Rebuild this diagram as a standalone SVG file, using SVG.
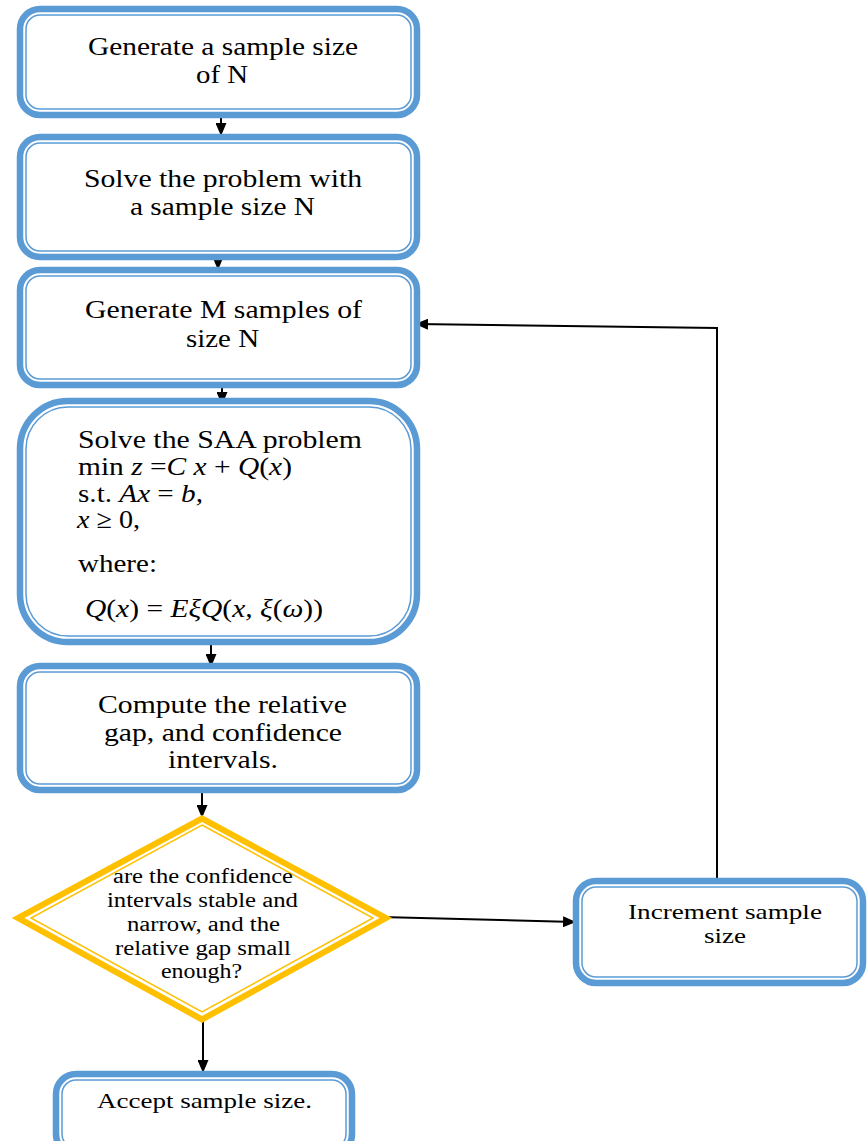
<svg xmlns="http://www.w3.org/2000/svg" width="867" height="1141" viewBox="0 0 867 1141">
<defs>
<marker id="ah" markerWidth="13" markerHeight="11" refX="12" refY="5.5" orient="auto" markerUnits="userSpaceOnUse">
<path d="M0,0 L13,5.5 L0,11 Z" fill="#000"/>
</marker>
<style>
.bo{fill:#fff;stroke:#5B9BD5;stroke-width:6.5}
.bi{fill:none;stroke:#5B9BD5;stroke-width:1.5}
.yo{fill:#fff;stroke:#FFC000;stroke-width:6;stroke-linejoin:miter;stroke-miterlimit:10}
.yi{fill:none;stroke:#FFC000;stroke-width:1.5}
text{font-family:"Liberation Serif","Times New Roman",serif;fill:#000}
.t{font-size:26px}
.d{font-size:20px}
.s{font-size:22px}
.c{fill:none;stroke:#000;stroke-width:2}
</style>
</defs>
<rect width="867" height="1141" fill="#fff"/>

<g id="connectors">
<line class="c" x1="221" y1="118" x2="221" y2="135" marker-end="url(#ah)"/>
<line class="c" x1="218" y1="257" x2="218" y2="269" marker-end="url(#ah)"/>
<line class="c" x1="222" y1="388" x2="222" y2="404" marker-end="url(#ah)"/>
<line class="c" x1="211" y1="645" x2="211" y2="666" marker-end="url(#ah)"/>
<line class="c" x1="202" y1="792" x2="202" y2="817" marker-end="url(#ah)"/>
<line class="c" x1="203" y1="1021" x2="203" y2="1072" marker-end="url(#ah)"/>
<line class="c" x1="381" y1="917" x2="575" y2="922" marker-end="url(#ah)"/>
<polyline class="c" points="717,879 717,328 416,324" marker-end="url(#ah)"/>
</g>

<g id="n1">
<rect class="bo" x="20" y="9" width="397" height="106" rx="20"/>
<rect class="bi" x="26" y="15" width="385" height="94" rx="14"/>
<text class="t" x="88" y="55" textLength="270" lengthAdjust="spacingAndGlyphs">Generate a sample size</text>
<text class="t" x="196" y="83" textLength="52" lengthAdjust="spacingAndGlyphs">of N</text>
</g>

<g id="n2">
<rect class="bo" x="20" y="137" width="397" height="120" rx="20"/>
<rect class="bi" x="26" y="143" width="385" height="108" rx="14"/>
<text class="t" x="84" y="187" textLength="278" lengthAdjust="spacingAndGlyphs">Solve the problem with</text>
<text class="t" x="130" y="215" textLength="185" lengthAdjust="spacingAndGlyphs">a sample size N</text>
</g>

<g id="n3">
<rect class="bo" x="20" y="270" width="397" height="115" rx="20"/>
<rect class="bi" x="26" y="276" width="385" height="103" rx="14"/>
<text class="t" x="85" y="318" textLength="277" lengthAdjust="spacingAndGlyphs">Generate M samples of</text>
<text class="t" x="186" y="347" textLength="73" lengthAdjust="spacingAndGlyphs">size N</text>
</g>

<g id="n4">
<rect class="bo" x="20" y="401" width="397" height="241" rx="48"/>
<rect class="bi" x="26" y="407" width="385" height="229" rx="42"/>
<text class="t" x="78" y="448" textLength="284" lengthAdjust="spacingAndGlyphs">Solve the SAA problem</text>
<text class="t" x="78" y="475" textLength="214" lengthAdjust="spacingAndGlyphs">min <tspan font-style="italic">z</tspan> =<tspan font-style="italic">C x</tspan> + <tspan font-style="italic">Q</tspan>(<tspan font-style="italic">x</tspan>)</text>
<text class="t" x="78" y="502" textLength="125" lengthAdjust="spacingAndGlyphs">s.t. <tspan font-style="italic">Ax</tspan> = <tspan font-style="italic">b,</tspan></text>
<text class="t" x="77" y="528" textLength="63" lengthAdjust="spacingAndGlyphs"><tspan font-style="italic">x</tspan> ≥ 0,</text>
<text class="t" x="78" y="572" textLength="79" lengthAdjust="spacingAndGlyphs">where:</text>
<text class="t" x="85" y="617" textLength="238" lengthAdjust="spacingAndGlyphs"><tspan font-style="italic">Q</tspan>(<tspan font-style="italic">x</tspan>) = <tspan font-style="italic">EξQ</tspan>(<tspan font-style="italic">x,</tspan> <tspan font-style="italic">ξ</tspan>(<tspan font-style="italic">ω</tspan>))</text>
</g>

<g id="n5">
<rect class="bo" x="20" y="666" width="397" height="124" rx="20"/>
<rect class="bi" x="26" y="672" width="385" height="112" rx="14"/>
<text class="t" x="98" y="713" textLength="249" lengthAdjust="spacingAndGlyphs">Compute the relative</text>
<text class="t" x="104" y="741" textLength="238" lengthAdjust="spacingAndGlyphs">gap, and confidence</text>
<text class="t" x="168" y="768" textLength="110" lengthAdjust="spacingAndGlyphs">intervals.</text>
</g>

<g id="decision">
<polygon class="yo" points="202,818.5 386,918 202,1019.5 18,918"/>
<polygon class="yi" points="202,825 373,918 202,1012 31,918"/>
<text class="d" x="113" y="883" textLength="180" lengthAdjust="spacingAndGlyphs">are the confidence</text>
<text class="d" x="107" y="907" textLength="191" lengthAdjust="spacingAndGlyphs">intervals stable and</text>
<text class="d" x="127" y="931" textLength="153" lengthAdjust="spacingAndGlyphs">narrow, and the</text>
<text class="d" x="115" y="955" textLength="176" lengthAdjust="spacingAndGlyphs">relative gap small</text>
<text class="d" x="161" y="978" textLength="81" lengthAdjust="spacingAndGlyphs">enough?</text>
</g>

<g id="increment">
<rect class="bo" x="576" y="881" width="287" height="102" rx="20"/>
<rect class="bi" x="582" y="887" width="275" height="90" rx="14"/>
<text class="s" x="628" y="919" textLength="194" lengthAdjust="spacingAndGlyphs">Increment sample</text>
<text class="s" x="704" y="943" textLength="42" lengthAdjust="spacingAndGlyphs">size</text>
</g>

<g id="accept">
<rect class="bo" x="56" y="1074" width="296" height="80" rx="20"/>
<rect class="bi" x="62" y="1080" width="284" height="68" rx="14"/>
<text class="s" x="97" y="1108" textLength="215" lengthAdjust="spacingAndGlyphs">Accept sample size.</text>
</g>
</svg>
